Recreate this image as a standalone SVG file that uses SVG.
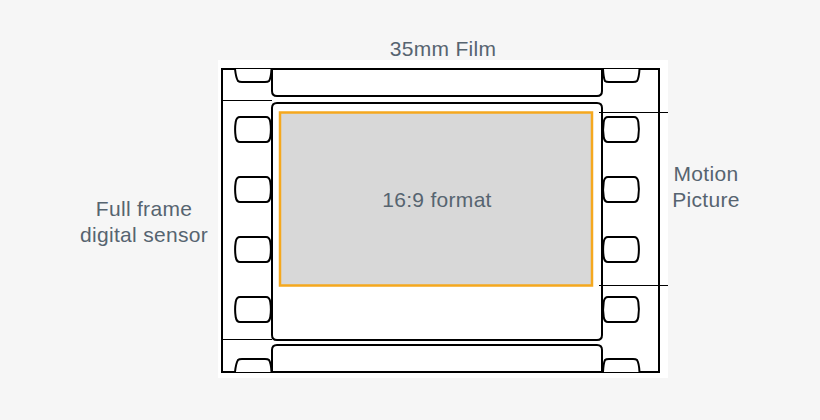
<svg xmlns="http://www.w3.org/2000/svg" width="820" height="420" viewBox="0 0 820 420">
<defs>
<style>
.lbl{font-family:"Liberation Sans",Arial,sans-serif;font-size:21px;fill:#566470;text-anchor:middle;letter-spacing:0.3px}
.ln{fill:none;stroke:#000;stroke-width:2}
.thin{fill:none;stroke:#000;stroke-width:1}
.perf{fill:#fff;stroke:#000;stroke-width:2}
</style>
<path id="p" d="M5,0 H31 Q34.5,0 35.3,5 Q36.5,12.5 35.3,20 Q34.5,25 31,25 H5 Q1.5,25 0.7,20 Q-0.5,12.5 0.7,5 Q1.5,0 5,0 Z"/>
</defs>
<rect x="0" y="0" width="820" height="420" fill="#f6f6f6"/>
<rect x="218" y="60" width="450" height="318" fill="#fff"/>
<g id="film">
<rect class="ln" x="222" y="69" width="437" height="303"/>
<path class="ln" d="M272,69 V91 Q272,96 277,96 H597 Q602,96 602,91 V69"/>
<path class="ln" d="M277,103 H597 Q602,103 602,108 V335 Q602,340 597,340 H277 Q272,340 272,335 V108 Q272,103 277,103 Z"/>
<path class="ln" d="M272,372 V350 Q272,345 277,345 H597 Q602,345 602,350 V372"/>
<path class="perf" d="M235,69 Q236,78 238,81 Q239,82 242,82 H265 Q268,82 269,81 Q271,78 271.5,69"/>
<path class="perf" d="M603,69 Q603.5,78 605,81 Q606,82 609,82 H633 Q636,82 637,81 Q639,78 639.5,69"/>
<path class="perf" d="M235,372 Q236,363 238,360 Q239,359 242,359 H265 Q268,359 269,360 Q271,363 271.5,372"/>
<path class="perf" d="M603,372 Q603.5,363 605,360 Q606,359 609,359 H633 Q636,359 637,360 Q639,363 639.5,372"/>
<use class="perf" href="#p" x="235" y="117"/>
<use class="perf" href="#p" x="235" y="177"/>
<use class="perf" href="#p" x="235" y="237"/>
<use class="perf" href="#p" x="235" y="297"/>
<use class="perf" href="#p" x="603" y="117"/>
<use class="perf" href="#p" x="603" y="177"/>
<use class="perf" href="#p" x="603" y="237"/>
<use class="perf" href="#p" x="603" y="297"/>
</g>
<g id="connectors">
<line class="thin" x1="222" y1="100.5" x2="272" y2="100.5"/>
<line class="thin" x1="222" y1="339.5" x2="272" y2="339.5"/>
<line class="thin" x1="599" y1="112.5" x2="668" y2="112.5"/>
<line class="thin" x1="599" y1="285.5" x2="668" y2="285.5"/>
</g>
<g id="format">
<rect x="280" y="112.5" width="312" height="173" fill="#d8d8d8" stroke="#f5a81e" stroke-width="2.5"/>
<text class="lbl" x="437" y="207">16:9 format</text>
</g>
<g id="title"><text class="lbl" x="443" y="56">35mm Film</text></g>
<g id="fullframe"><text class="lbl" x="144" y="216">Full frame</text><text class="lbl" x="144" y="241.5">digital sensor</text></g>
<g id="motion"><text class="lbl" x="706" y="181">Motion</text><text class="lbl" x="706" y="206.5">Picture</text></g>
</svg>
